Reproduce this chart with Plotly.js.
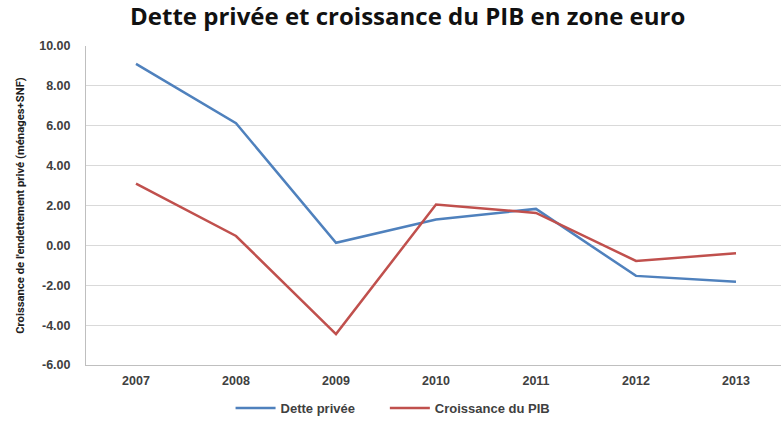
<!DOCTYPE html>
<html>
<head>
<meta charset="utf-8">
<script src="https://cdn.plot.ly/plotly-3.0.1.min.js"></script>
<style>html,body{margin:0;padding:0;background:#fff;}#chart{width:781px;height:423px;}</style>
</head>
<body>
<div id="chart"></div>
<script>
const years = ["2007", "2008", "2009", "2010", "2011", "2012", "2013"];
const dettePrivee = [9.1, 6.13, 0.13, 1.3, 1.83, -1.53, -1.83];
const croissancePIB = [3.1, 0.47, -4.45, 2.05, 1.63, -0.78, -0.4];
const yTickVals = [-6, -4, -2, 0, 2, 4, 6, 8, 10];
const yTickText = ["-6.00", "-4.00", "-2.00", "0.00", "2.00", "4.00", "6.00", "8.00", "10.00"];

const traces = [
  {x: years, y: dettePrivee, type: "scatter", mode: "lines", name: "Dette privée",
   line: {color: "#4f81bd", width: 2.5}, legend: "legend"},
  {x: years, y: croissancePIB, type: "scatter", mode: "lines", name: "Croissance du PIB",
   line: {color: "#c0504d", width: 2.5}, legend: "legend2"}
];

const legendFont = {family: "Liberation Sans", size: 13, color: "#404040", weight: "bold"};

const layout = {
  width: 781, height: 423,
  margin: {l: 86, r: 0, t: 46, b: 57},
  paper_bgcolor: "#ffffff", plot_bgcolor: "#ffffff",
  title: {text: "Dette privée et croissance du PIB en zone euro",
          font: {family: "Open Sans", size: 24, color: "#111111", weight: "bold"},
          x: 0.522, xanchor: "center", y: 0.96, yanchor: "middle"},
  xaxis: {type: "category", range: [-0.5, 6.45], showgrid: false, zeroline: false,
          showline: true, linecolor: "#bfbfbf", linewidth: 1, ticks: "",
          tickfont: {family: "Liberation Sans", size: 12.5, color: "#404040", weight: "bold"},
          ticklabelstandoff: 4, fixedrange: true},
  yaxis: {range: [-6, 10], tickvals: yTickVals, ticktext: yTickText,
          showgrid: true, gridcolor: "#d9d9d9", gridwidth: 1, zeroline: false,
          showline: true, linecolor: "#bfbfbf", linewidth: 1, ticks: "",
          ticklabelstandoff: 12,
          tickfont: {family: "Liberation Sans", size: 12.5, color: "#404040", weight: "bold"},
          title: {text: "Croissance de l'endettement privé (ménages+SNF)",
                  font: {family: "Roboto", size: 11.3, color: "#202020", weight: "bold"},
                  standoff: 12}},
  showlegend: true,
  legend: {orientation: "h", x: 0.208, xanchor: "left", y: -0.134, yanchor: "middle",
           font: legendFont, itemwidth: 40, bgcolor: "rgba(0,0,0,0)"},
  legend2: {orientation: "h", x: 0.430, xanchor: "left", y: -0.134, yanchor: "middle",
           font: legendFont, itemwidth: 40, bgcolor: "rgba(0,0,0,0)"}
};

Plotly.newPlot("chart", traces, layout, {displayModeBar: false, staticPlot: true});
</script>
</body>
</html>
